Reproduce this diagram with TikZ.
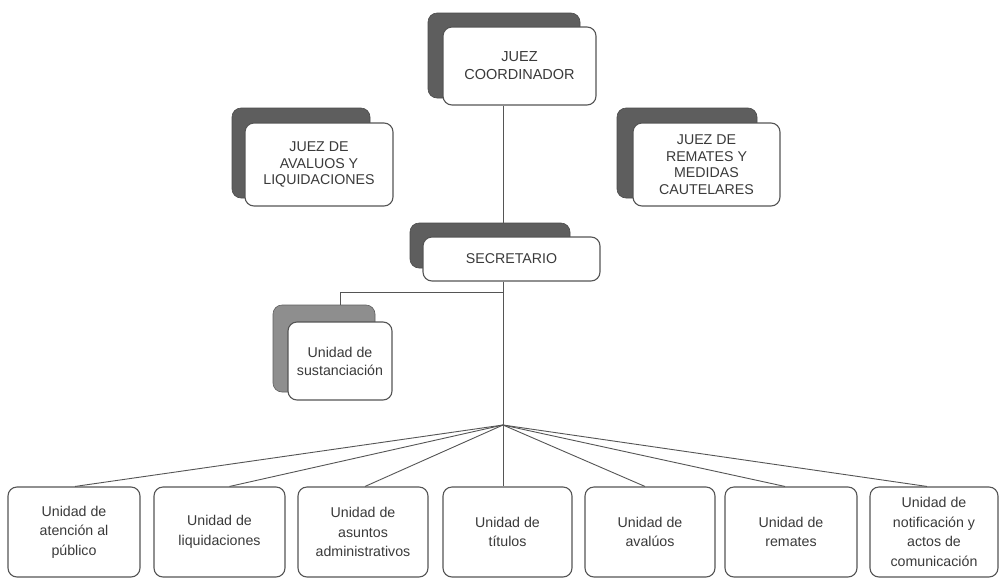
\documentclass[tikz,border=0pt]{standalone}
\usepackage{fontspec}
\setmainfont{Liberation Sans}
\definecolor{edge}{HTML}{555555}
\definecolor{txt}{HTML}{3A3A3A}
\definecolor{shade}{HTML}{5E5E5E}
\definecolor{shadelight}{HTML}{8E8E8E}
\begin{document}
\begin{tikzpicture}[x=1pt,y=-1pt]
\tikzset{
  front/.style={draw=edge, line width=1.1pt, fill=white, rounded corners=9pt, inner sep=0pt, text=txt, align=center},
  shad/.style={fill=shade, draw=shade!80!black, line width=0.6pt, rounded corners=9pt, inner sep=0pt},
  unitbox/.style={front, minimum height=90pt, font=\fontsize{14.2}{19.5}\selectfont},
  hdr/.style={font=\fontsize{14.2}{16.5}\selectfont},
  conn/.style={draw=edge, line width=0.9pt},
}
\useasboundingbox (0,0) rectangle (999,579);
\fill[white] (0,0) rectangle (999,579);

% Juez coordinador
\node[shad, minimum width=152pt, minimum height=85pt] (jcs) at (504,55.5) {};
\node[front, minimum width=153pt, minimum height=78pt, font=\fontsize{14.5}{18}\selectfont] (jc) at (519.5,66) {JUEZ\\COORDINADOR};

% Juez de avaluos
\node[shad, minimum width=138pt, minimum height=90pt] (jas) at (301,153) {};
\node[front, hdr, minimum width=148pt, minimum height=83pt] (ja) at (319,164.5) {JUEZ DE\\AVALUOS Y\\LIQUIDACIONES};

% Juez de remates
\node[shad, minimum width=140pt, minimum height=90pt] (jrs) at (687,153) {};
\node[front, hdr, minimum width=147pt, minimum height=83pt] (jr) at (706.5,164.5) {JUEZ DE\\REMATES Y\\MEDIDAS\\CAUTELARES};

% Secretario
\node[shad, minimum width=160pt, minimum height=45pt] (secs) at (490,245.5) {};
\node[front, minimum width=177pt, minimum height=44pt, font=\fontsize{14.2}{17}\selectfont] (sec) at (511.5,259) {SECRETARIO};

% Sustanciacion
\node[shad, fill=shadelight, draw=shade, minimum width=102pt, minimum height=87pt] (sus) at (324,348.5) {};
\node[front, minimum width=104pt, minimum height=78pt, font=\fontsize{14.2}{18}\selectfont] (su) at (340,361) {Unidad de\\sustanciación};

% bottom units
\node[unitbox, minimum width=132pt] (b1) at (74,532) {Unidad de\\atención al\\público};
\node[unitbox, minimum width=131pt] (b2) at (219.5,532) {Unidad de\\liquidaciones};
\node[unitbox, minimum width=130pt] (b3) at (363,532) {Unidad de\\asuntos\\administrativos};
\node[unitbox, minimum width=129pt] (b4) at (507.5,532) {Unidad de\\títulos};
\node[unitbox, minimum width=130pt] (b5) at (650,532) {Unidad de\\avalúos};
\node[unitbox, minimum width=132pt] (b6) at (791,532) {Unidad de\\remates};
\node[unitbox, minimum width=128pt] (b7) at (934,532) {Unidad de\\notificación y\\actos de\\comunicación};

% connectors
\coordinate (fan) at (503,425);
\coordinate (br) at (503,292);
\draw[conn] (fan |- jc.south) -- (fan |- secs.north);
\draw[conn] (fan |- sec.south) -- (fan);
\draw[conn] (br) -- (340,292) -- (340,292 |- sus.north);
\draw[conn] (fan) -- ([xshift=1pt]b1.north);
\draw[conn] (fan) -- ([xshift=10pt]b2.north);
\draw[conn] (fan) -- ([xshift=2pt]b3.north);
\draw[conn] (fan) -- (fan |- b4.north);
\draw[conn] (fan) -- ([xshift=-5pt]b5.north);
\draw[conn] (fan) -- ([xshift=-6pt]b6.north);
\draw[conn] (fan) -- ([xshift=-7pt]b7.north);
\end{tikzpicture}
\end{document}
